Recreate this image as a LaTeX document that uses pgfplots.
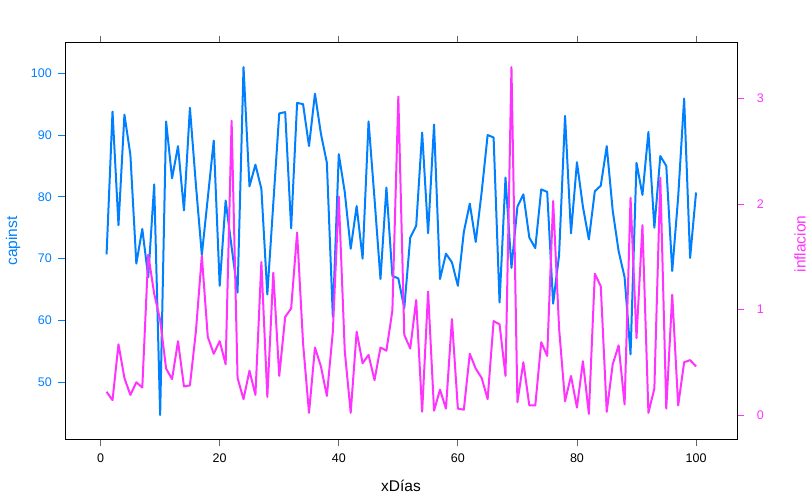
\documentclass[border=0pt]{standalone}
\usepackage{pgfplots}
\pgfplotsset{compat=1.18}
\usepackage{pgfplotstable}
\usepackage{fontspec}
\setmainfont{Liberation Sans}
\definecolor{capblue}{HTML}{0080FF}
\definecolor{infmag}{HTML}{FF33FF}
\pgfplotstableread{
d cap inf
1 70.7 0.22
2 93.8 0.14
3 75.4 0.67
4 93.3 0.35
5 86.8 0.19
6 69.2 0.31
7 74.8 0.26
8 67.0 1.52
9 82.0 1.15
10 44.7 0.90
11 92.2 0.44
12 83.0 0.34
13 88.2 0.70
14 77.8 0.27
15 94.4 0.28
16 82.0 0.79
17 70.6 1.51
18 79.8 0.74
19 89.1 0.58
20 65.6 0.70
21 79.4 0.48
22 71.9 2.79
23 64.5 0.35
24 101.0 0.15
25 81.7 0.42
26 85.2 0.19
27 81.3 1.45
28 64.2 0.17
29 78.9 1.35
30 93.5 0.37
31 93.7 0.93
32 74.9 1.01
33 95.2 1.73
34 95.0 0.68
35 88.2 0.02
36 96.7 0.64
37 90.2 0.46
38 85.5 0.18
39 60.6 0.79
40 86.9 2.07
41 80.8 0.61
42 71.6 0.02
43 78.5 0.79
44 70.0 0.49
45 92.2 0.57
46 79.7 0.33
47 66.7 0.64
48 81.5 0.61
49 67.2 0.99
50 66.8 3.02
51 62.0 0.76
52 73.4 0.63
53 75.3 1.09
54 90.4 0.03
55 74.1 1.17
56 91.7 0.04
57 66.7 0.24
58 70.8 0.06
59 69.4 0.91
60 65.6 0.06
61 74.3 0.05
62 78.9 0.58
63 72.7 0.44
64 80.8 0.35
65 90.0 0.15
66 89.6 0.89
67 62.9 0.86
68 83.1 0.37
69 68.5 3.30
70 78.4 0.12
71 80.4 0.50
72 73.4 0.09
73 71.7 0.09
74 81.2 0.69
75 80.8 0.56
76 62.7 2.03
77 70.6 0.82
78 93.1 0.13
79 74.1 0.37
80 85.6 0.07
81 78.4 0.51
82 73.1 0.01
83 80.9 1.34
84 81.8 1.22
85 88.2 0.03
86 77.8 0.48
87 71.2 0.66
88 67.0 0.10
89 54.5 2.06
90 85.5 0.73
91 80.3 1.80
92 90.5 0.02
93 75.0 0.25
94 86.6 2.25
95 85.0 0.06
96 68.0 1.14
97 80.0 0.09
98 95.9 0.50
99 70.1 0.52
100 80.7 0.46
}\datatable
\begin{document}
\begin{tikzpicture}
\path[use as bounding box] (0pt,0pt) rectangle (810pt,499pt);
\begin{axis}[
  at={(65.3pt,59.7pt)}, anchor=south west,
  scale only axis, width=672pt, height=396.6pt,
  xmin=-5.93, xmax=106.93, ymin=40.76, ymax=104.94,
  axis line style={black, line width=0.8pt},
  tick align=outside, major tick length=7pt,
  xtick={0,20,...,100}, xtick pos=both, xticklabel pos=lower,
  ytick={50,60,...,100}, ytick pos=left,
  x tick style={color=black!60, line width=0.8pt},
  y tick style={color=capblue, line width=0.8pt},
  yticklabel style={color=capblue, xshift=-3pt},
  xticklabel style={yshift=-4pt},
  tick label style={font=\fontsize{12.5}{14}\selectfont},
  /pgf/number format/assume math mode=true,
  clip=true,
]
\addplot[capblue, line width=2pt, line join=round] table[x=d, y=cap] {\datatable};
\end{axis}
\begin{axis}[
  at={(65.3pt,59.7pt)}, anchor=south west,
  scale only axis, width=672pt, height=396.6pt,
  xmin=-5.93, xmax=106.93, ymin=-0.231, ymax=3.531,
  axis x line=none, axis y line*=right,
  axis line style={black, line width=0.8pt},
  tick align=outside, major tick length=7pt,
  ytick={0,1,2,3},
  y tick style={color=infmag, line width=0.8pt},
  yticklabel style={color=infmag, xshift=9pt},
  tick label style={font=\fontsize{12.5}{14}\selectfont},
  /pgf/number format/assume math mode=true,
  clip=true,
]
\addplot[infmag, line width=2pt, line join=round] table[x=d, y=inf] {\datatable};
\end{axis}
\node[rotate=90, color=capblue, font=\fontsize{15.5}{18}\selectfont] at (13pt,258pt) {capinst};
\node[rotate=90, color=infmag, font=\fontsize{15.5}{18}\selectfont] at (800pt,255pt) {inflacion};
\node[font=\fontsize{15.5}{18}\selectfont] at (401pt,13pt) {xDías};
\end{tikzpicture}
\end{document}
